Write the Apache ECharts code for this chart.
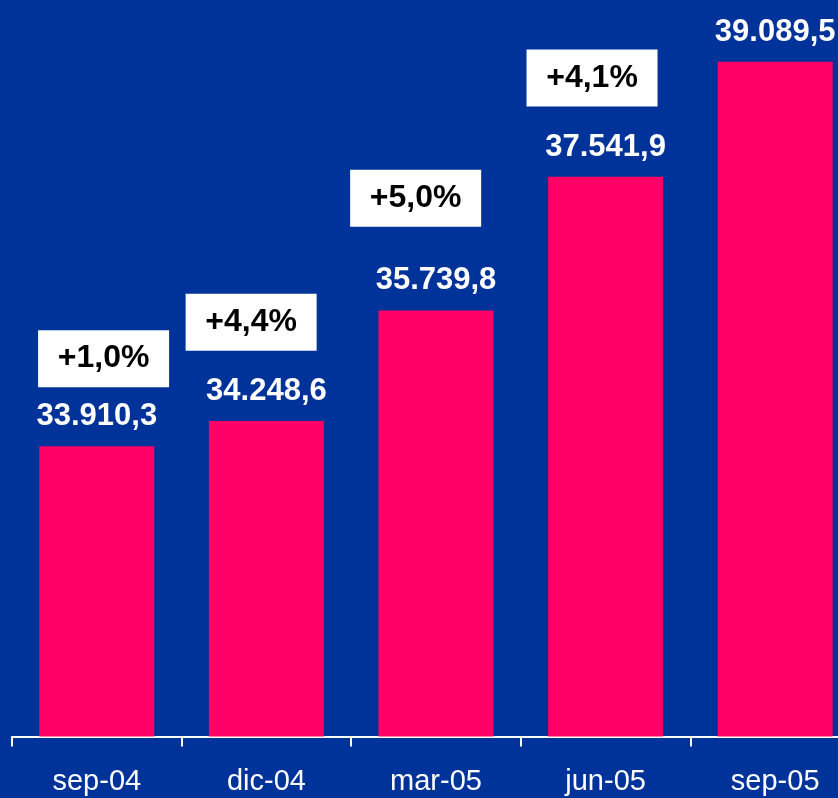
<!DOCTYPE html>
<html>
<head>
<meta charset="utf-8">
<script src="https://cdn.jsdelivr.net/npm/echarts@6/dist/echarts.min.js"></script>
<style>
    html, body {margin: 0; padding: 0; background: #003399; overflow: hidden;}
    /* the last category runs past the right edge of the picture */
    #chart {width: 860px; height: 798px;}
</style>
</head>
<body>
<div id="chart"></div>
<script>
// quarters and totals
const categories = ['sep-04', 'dic-04', 'mar-05', 'jun-05', 'sep-05'];
const totals = [33910.3, 34248.6, 35739.8, 37541.9, 39089.5];

// growth call-outs, anchored in data units (x = category index, y = value)
const growthLabels = ['+1,0%', '+4,4%', '+5,0%', '+4,1%'];
const growthX = [0.04, 0.91, 1.88, 2.92];
const growthY = [35090, 35580, 37250, 38870];

const FONT = 'Arial, "Liberation Sans", sans-serif';

const myChart = echarts.init(document.getElementById('chart'), null, {renderer: 'canvas'});

const fmt = v => {
    const parts = v.toFixed(1).split('.');
    return parts[0].replace(/\B(?=(\d{3})+(?!\d))/g, '.') + ',' + parts[1];
};

myChart.setOption({
    backgroundColor: '#003399',
    animation: false,
    grid: {left: 12, right: 0, top: 1.6, bottom: 61.5, containLabel: false},
    xAxis: [{
        type: 'category',
        data: categories,
        axisLine: {lineStyle: {color: '#ffffff', width: 2}},
        axisTick: {show: true, length: 10, lineStyle: {color: '#ffffff', width: 2}},
        axisLabel: {color: '#ffffff', fontSize: 29, fontFamily: FONT, margin: 31},
    }, {
        type: 'value',
        min: -0.5,
        max: 4.5,
        show: false,
    }],
    yAxis: {
        type: 'value',
        min: 30000,
        max: 39900,
        show: false,
        splitLine: {show: false},
    },
    series: [{
        type: 'bar',
        data: totals,
        barWidth: 115,
        itemStyle: {color: '#ff0066'},
        label: {
            show: true,
            position: 'top',
            distance: 14,
            color: '#ffffff',
            fontSize: 31,
            fontWeight: 'bold',
            fontFamily: FONT,
            formatter: p => fmt(p.value),
        },
    }, {
        type: 'scatter',
        xAxisIndex: 1,
        symbol: 'rect',
        symbolSize: [131, 57],
        itemStyle: {color: '#ffffff', opacity: 1},
        data: growthLabels.map((t, i) => [growthX[i], growthY[i]]),
        label: {
            show: true,
            position: 'inside',
            color: '#000000',
            fontSize: 32,
            fontWeight: 'bold',
            fontFamily: FONT,
            formatter: p => growthLabels[p.dataIndex],
        },
        z: 3,
    }],
});
</script>
</body>
</html>
